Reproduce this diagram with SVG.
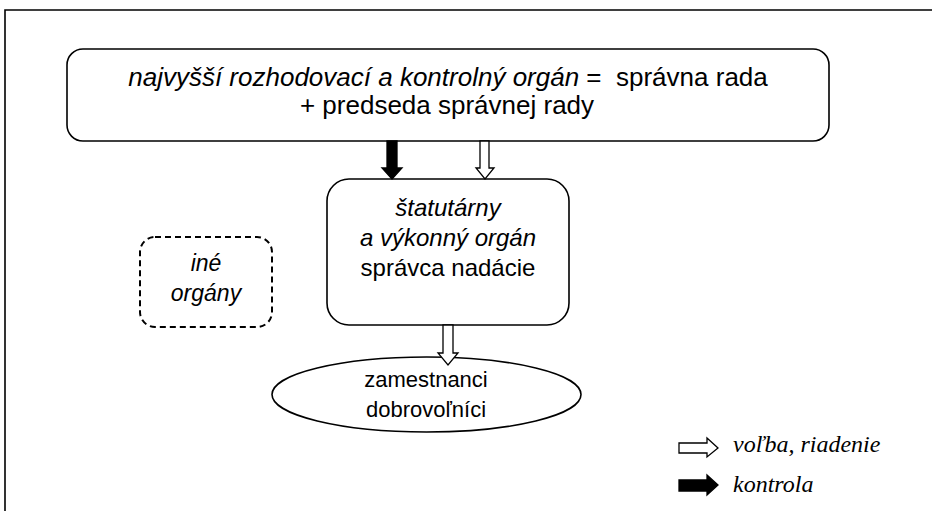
<svg xmlns="http://www.w3.org/2000/svg" width="932" height="511" viewBox="0 0 932 511">
<style>
.box{fill:#fff;stroke:#000;stroke-width:1.6}
.t{font-family:"Liberation Sans",Arial,sans-serif;font-size:22px;fill:#000;text-anchor:middle}
.big{font-size:26px}
.mid{font-size:24px}
.sm{font-size:23px}
.i{font-style:italic}
.lg{font-family:"Liberation Serif","Times New Roman",serif;font-size:24px;font-style:italic;fill:#000}
.ah{stroke:#000;stroke-width:1.3}
</style>
<rect width="932" height="511" fill="#fff"/>
<path d="M5,520 V10 H940" fill="none" stroke="#000" stroke-width="1.6"/>
<g id="top">
<rect class="box" x="67" y="49" width="762" height="92" rx="16"/>
<text class="t big" x="448" y="86"><tspan class="i">najvyšší rozhodovací a kontrolný orgán</tspan> =&#160; správna rada</text>
<text class="t big" x="447" y="114">+ predseda správnej rady</text>
</g>
<g id="mid">
<rect class="box" x="327" y="179" width="242" height="146" rx="22"/>
<text class="t mid i" x="448" y="216">štatutárny</text>
<text class="t mid i" x="448" y="246">a výkonný orgán</text>
<text class="t mid" x="448" y="276">správca nadácie</text>
</g>
<g id="other">
<rect x="140" y="237" width="132" height="90" rx="15" fill="#fff" stroke="#000" stroke-width="2" stroke-dasharray="6,4"/>
<text class="t sm i" x="206" y="271">iné</text>
<text class="t sm i" x="206" y="301">orgány</text>
</g>
<g id="staff">
<ellipse class="box" cx="426.5" cy="394.5" rx="154.5" ry="37.5"/>
<text class="t" x="426" y="387">zamestnanci</text>
<text class="t" x="426" y="417">dobrovoľníci</text>
</g>
<g id="connectors">
<polygon class="ah" fill="#000" points="387,141 397,141 397,168 402,168 392,179 382,168 387,168"/>
<polygon class="ah" fill="#fff" points="480,141 489,141 489,168 494,168 485,179 476,168 480,168"/>
<polygon class="ah" fill="#fff" points="443,325 453,325 453,353 458,353 448,365 438,353 443,353"/>
</g>
<g id="legend">
<polygon class="ah" fill="#fff" points="679,443 707,443 707,438 718,448 707,457 707,453 679,453"/>
<text class="lg" x="733" y="452">voľba, riadenie</text>
<polygon class="ah" fill="#000" points="679,480 707,480 707,475 718,485 707,495 707,491 679,491"/>
<text class="lg" x="733" y="492">kontrola</text>
</g>
</svg>
